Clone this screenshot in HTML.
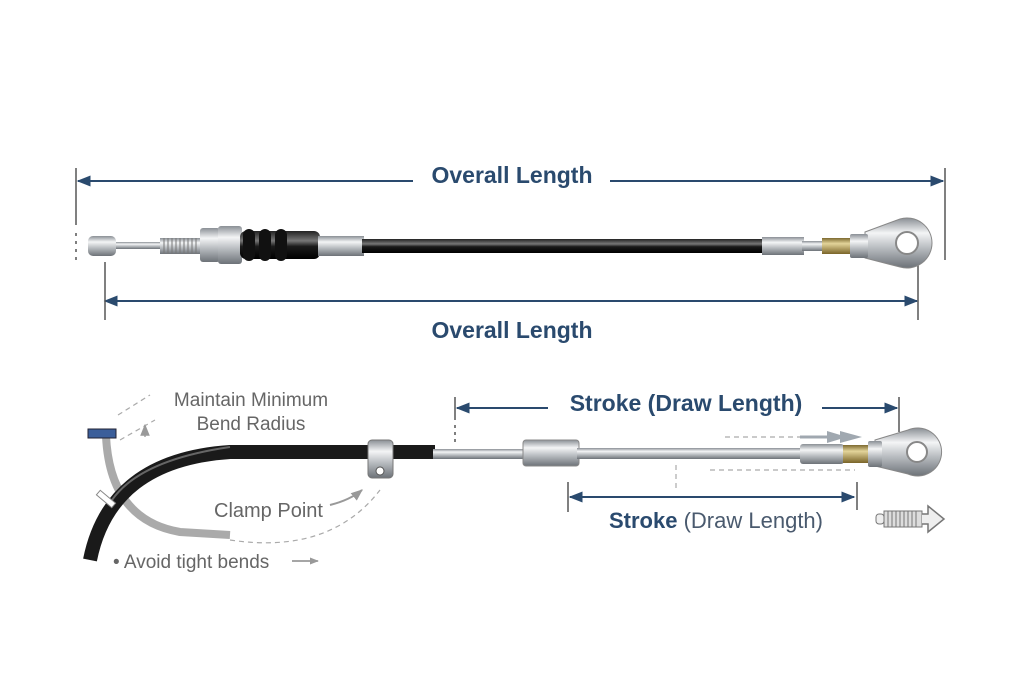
<!DOCTYPE html>
<html><head><meta charset="utf-8"><style>
html,body{margin:0;padding:0;background:#fff;}
svg{display:block;}
text{font-family:"Liberation Sans",sans-serif;}
</style></head><body>
<svg width="1024" height="683" viewBox="0 0 1024 683" xmlns="http://www.w3.org/2000/svg">
<defs>
<linearGradient id="met" x1="0" y1="0" x2="0" y2="1">
<stop offset="0" stop-color="#8a8f95"/><stop offset="0.3" stop-color="#f4f5f6"/><stop offset="0.6" stop-color="#b8bcc0"/><stop offset="1" stop-color="#6d7278"/></linearGradient>
<linearGradient id="blk" x1="0" y1="0" x2="0" y2="1">
<stop offset="0" stop-color="#222"/><stop offset="0.35" stop-color="#777"/><stop offset="0.55" stop-color="#1a1a1a"/><stop offset="1" stop-color="#000"/></linearGradient>
<linearGradient id="brs" x1="0" y1="0" x2="0" y2="1">
<stop offset="0" stop-color="#7d6a30"/><stop offset="0.35" stop-color="#e3d49a"/><stop offset="1" stop-color="#7a6428"/></linearGradient>
<marker id="ar" viewBox="0 0 10 10" refX="9" refY="5" markerWidth="7" markerHeight="7" orient="auto-start-reverse"><path d="M0,1 L10,5 L0,9 Z" fill="#2a4a6e"/></marker>
<marker id="ag" viewBox="0 0 10 10" refX="9" refY="5" markerWidth="6" markerHeight="6" orient="auto"><path d="M0,1 L10,5 L0,9 Z" fill="#999"/></marker>
</defs>

<g stroke="#2a4a6e" stroke-width="2" fill="none">
<line x1="78" y1="181" x2="413" y2="181" marker-start="url(#ar)"/>
<line x1="610" y1="181" x2="943" y2="181" marker-end="url(#ar)"/>
<line x1="105" y1="301" x2="917" y2="301" marker-start="url(#ar)" marker-end="url(#ar)"/>
</g>
<g stroke="#555" stroke-width="1.5">
<line x1="76" y1="168" x2="76" y2="225"/><line x1="76" y1="233" x2="76" y2="260" stroke-dasharray="3,5"/>
<line x1="945" y1="168" x2="945" y2="260"/>
<line x1="105" y1="262" x2="105" y2="320"/>
<line x1="918" y1="262" x2="918" y2="320"/>
</g>
<text x="512" y="183" text-anchor="middle" font-size="23" font-weight="bold" fill="#2a4a6e">Overall Length</text>
<text x="512" y="338" text-anchor="middle" font-size="23" font-weight="bold" fill="#2a4a6e">Overall Length</text>

<rect x="88" y="236" width="28" height="20" rx="5" fill="url(#met)"/>
<rect x="116" y="242" width="46" height="7" fill="url(#met)"/>
<rect x="160" y="238" width="42" height="16" fill="url(#met)"/>
<g stroke="#777" stroke-width="1"><path d="M164 238v16M168 238v16M172 238v16M176 238v16M180 238v16M184 238v16M188 238v16M192 238v16M196 238v16"/></g>
<rect x="200" y="228" width="20" height="34" rx="3" fill="url(#met)"/>
<rect x="218" y="226" width="24" height="38" rx="3" fill="url(#met)"/>
<rect x="240" y="231" width="80" height="28" rx="6" fill="url(#blk)"/>
<g fill="#111"><rect x="243" y="229" width="12" height="32" rx="6"/><rect x="259" y="229" width="12" height="32" rx="6"/><rect x="275" y="229" width="12" height="32" rx="6"/></g>
<rect x="318" y="236" width="46" height="20" fill="url(#met)"/>
<rect x="362" y="239" width="402" height="14" fill="url(#blk)"/>
<rect x="762" y="237" width="42" height="18" fill="url(#met)"/>
<rect x="802" y="241" width="22" height="10" fill="url(#met)"/>
<rect x="822" y="238" width="30" height="16" fill="url(#brs)"/>
<path d="M865 232 L900 219 A25 25 0 1 1 900 267 L865 258 Z" fill="url(#met)" stroke="#888"/>
<circle cx="907" cy="243" r="11" fill="#fff" stroke="#888" stroke-width="2"/>
<rect x="850" y="234" width="18" height="24" rx="2" fill="url(#met)"/>

<g stroke="#2a4a6e" stroke-width="2" fill="none">
<line x1="457" y1="408" x2="548" y2="408" marker-start="url(#ar)"/>
<line x1="822" y1="408" x2="897" y2="408" marker-end="url(#ar)"/>
<line x1="570" y1="497" x2="854" y2="497" marker-start="url(#ar)" marker-end="url(#ar)"/>
</g>
<g stroke="#555" stroke-width="1.5">
<line x1="455" y1="397" x2="455" y2="420"/><line x1="455" y1="425" x2="455" y2="442" stroke-dasharray="3,4"/>
<line x1="899" y1="397" x2="899" y2="432"/>
<line x1="568" y1="482" x2="568" y2="512"/>
<line x1="857" y1="482" x2="857" y2="510"/>
</g>
<text x="686" y="411" text-anchor="middle" font-size="23" font-weight="bold" fill="#2a4a6e">Stroke (Draw Length)</text>
<text x="716" y="528" text-anchor="middle" font-size="22" fill="#4a5a6e"><tspan font-weight="bold" fill="#2a4a6e">Stroke</tspan> (Draw Length)</text>

<g stroke="#aaa" stroke-width="1.2" stroke-dasharray="5,4" fill="none">
<line x1="725" y1="437" x2="830" y2="437"/>
<line x1="710" y1="470" x2="855" y2="470"/>
<line x1="676" y1="465" x2="676" y2="490"/>
<path d="M230 540 Q330 555 380 490"/>
<path d="M118 415 L150 395"/><path d="M120 440 L155 420"/>
</g>
<path d="M800 437 L850 437" stroke="#a0a8b0" stroke-width="3" fill="none"/>
<path d="M840 431 L862 437 L840 443 Z" fill="#a0a8b0"/>
<path d="M827 431 L847 437 L827 443 Z" fill="#a0a8b0"/>

<path d="M106 436 Q110 520 180 532 L230 535" stroke="#aaa" stroke-width="8" fill="none"/>
<rect x="88" y="429" width="28" height="9" fill="#3b5e9a" stroke="#223"/>

<path d="M90 560 Q110 460 230 452 L435 452" stroke="#1a1a1a" stroke-width="14" fill="none"/>
<path d="M112 500 Q140 460 230 447" stroke="#666" stroke-width="2" fill="none"/>
<rect x="96" y="496" width="20" height="6" fill="#fff" stroke="#888" transform="rotate(40 106 499)"/>
<rect x="368" y="440" width="25" height="38" rx="4" fill="url(#met)" stroke="#777"/>
<circle cx="380" cy="471" r="4" fill="#fff" stroke="#555"/>
<rect x="433" y="449" width="92" height="10" fill="url(#met)"/>
<rect x="523" y="440" width="56" height="26" rx="3" fill="url(#met)" stroke="#888"/>
<rect x="577" y="448" width="225" height="11" fill="url(#met)"/>
<rect x="800" y="444" width="44" height="20" rx="3" fill="url(#met)"/>
<rect x="843" y="445" width="26" height="18" fill="url(#brs)"/>
<path d="M875 440 L908 430 A24 24 0 1 1 908 474 L875 466 Z" fill="url(#met)" stroke="#888"/>
<circle cx="917" cy="452" r="10" fill="#fff" stroke="#888" stroke-width="2"/>
<rect x="868" y="441" width="14" height="26" rx="2" fill="url(#met)"/>

<rect x="876" y="514" width="8" height="10" rx="3" fill="#eee" stroke="#777"/>
<rect x="884" y="511" width="38" height="16" fill="#ddd" stroke="#777"/>
<g stroke="#777"><path d="M888 511v16M892 511v16M896 511v16M900 511v16M904 511v16M908 511v16M912 511v16M916 511v16"/></g>
<path d="M922 514 L928 514 L928 506 L944 519 L928 532 L928 524 L922 524" fill="#eee" stroke="#777" stroke-width="1.5"/>

<text x="251" y="406" text-anchor="middle" font-size="19" fill="#666">Maintain Minimum</text>
<text x="251" y="430" text-anchor="middle" font-size="19" fill="#666">Bend Radius</text>
<path d="M145 437 L145 425" stroke="#bbb" stroke-width="2" marker-end="url(#ag)"/>
<text x="214" y="517" font-size="20" fill="#666">Clamp Point</text>
<path d="M330 505 Q350 500 362 490" stroke="#999" stroke-width="2" fill="none" marker-end="url(#ag)"/>
<text x="113" y="568" font-size="19" fill="#666">• Avoid tight bends</text>
<path d="M292 561 L318 561" stroke="#888" stroke-width="1.5" marker-end="url(#ag)"/>
</svg>
</body></html>
